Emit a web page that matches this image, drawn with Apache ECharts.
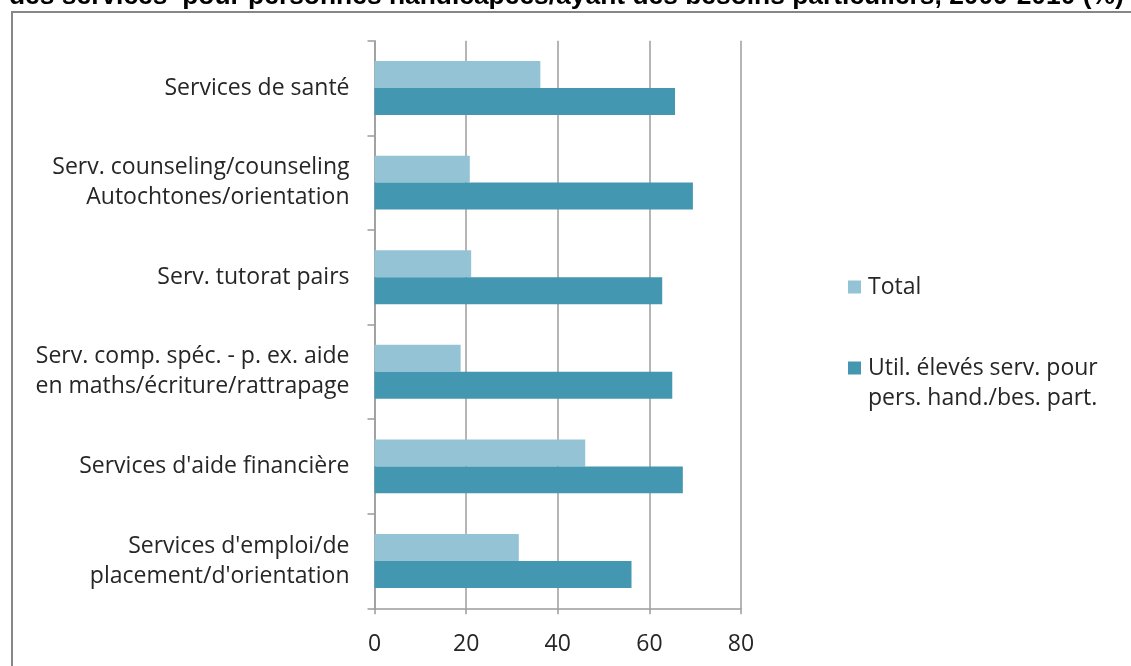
<!DOCTYPE html>
<html>
<head>
<meta charset="utf-8">
<script src="https://cdn.jsdelivr.net/npm/echarts@6/dist/echarts.min.js"></script>
<style>
  html, body { margin: 0; padding: 0; background: #ffffff; }
  #chart { width: 1131px; height: 666px; }
</style>
</head>
<body>
<div id="chart"></div>
<script>
// Service categories, top to bottom
const categories = [
  'Services de santé',
  'Serv. counseling/counseling\nAutochtones/orientation',
  'Serv. tutorat pairs',
  'Serv. comp. spéc. - p. ex. aide\nen maths/écriture/rattrapage',
  "Services d'aide financière",
  "Services d'emploi/de\nplacement/d'orientation"
];

// Series names as shown in the legend
const seriesNames = [
  'Total',
  'Util. élevés serv. pour\npers. hand./bes. part.'
];

// Share of students using each service (%)
const totalValues = [36.2, 20.8, 21.1, 18.8, 46.0, 31.5];
const specialNeedsValues = [65.6, 69.5, 62.8, 65.0, 67.3, 56.1];

// Value axis range and step
const axisMin = 0;
const axisMax = 80;
const axisStep = 20;

const titleText = 'des services  pour personnes handicapées/ayant des besoins particuliers, 2009-2010 (%)';

const FONT = '"Open Sans", "Noto Sans", sans-serif';
const TEXT_COLOR = '#262626';
const LINE_COLOR = '#9c9c9c';
const LIGHT = '#93c3d4';
const DARK = '#4397b0';

const legendText = { fontFamily: FONT, fontSize: 23, color: TEXT_COLOR, lineHeight: 30, padding: [0, 0, 0, 2] };

const chart = echarts.init(document.getElementById('chart'), null, { renderer: 'canvas' });

chart.setOption({
  backgroundColor: '#ffffff',
  animation: false,
  textStyle: { fontFamily: FONT },
  graphic: [
    {
      type: 'rect',
      silent: true,
      shape: { x: 12, y: 12, width: 1200, height: 700 },
      style: { fill: 'none', stroke: '#878787', lineWidth: 2 }
    },
    {
      type: 'text',
      silent: true,
      x: 9,
      y: 10,
      style: {
        text: titleText,
        font: 'bold 26.4px "Liberation Sans", Arial, sans-serif',
        fill: '#000000',
        verticalAlign: 'bottom'
      }
    }
  ],
  legend: [
    {
      data: [seriesNames[0]],
      orient: 'vertical',
      left: 848,
      top: 272,
      padding: 0,
      icon: 'rect',
      itemWidth: 13,
      itemHeight: 13,
      selectedMode: false,
      textStyle: legendText
    },
    {
      // leading empty line keeps the marker level with the first text line
      data: [seriesNames[1]],
      orient: 'vertical',
      left: 848,
      top: 323,
      padding: 0,
      icon: 'rect',
      itemWidth: 13,
      itemHeight: 13,
      selectedMode: false,
      formatter: name => ' \n' + name,
      textStyle: legendText
    }
  ],
  grid: {
    left: 374.5,
    right: 390,
    top: 40.7,
    bottom: 57.7,
    containLabel: false
  },
  xAxis: {
    type: 'value',
    min: axisMin,
    max: axisMax,
    interval: axisStep,
    axisLine: { show: true, lineStyle: { color: LINE_COLOR, width: 1.5 } },
    axisTick: { show: true, length: 6, lineStyle: { color: LINE_COLOR, width: 1.5 } },
    axisLabel: { fontFamily: FONT, fontSize: 23, color: TEXT_COLOR, margin: 25 },
    splitLine: { show: true, lineStyle: { color: LINE_COLOR, width: 1.5 } }
  },
  yAxis: {
    type: 'category',
    data: categories,
    inverse: true,
    axisLine: { show: true, lineStyle: { color: LINE_COLOR, width: 1.5 } },
    axisTick: { show: true, length: 7, lineStyle: { color: LINE_COLOR, width: 1.5 } },
    axisLabel: { fontFamily: FONT, fontSize: 23, color: TEXT_COLOR, margin: 25, lineHeight: 30, align: 'right' },
    splitLine: { show: false }
  },
  series: [
    {
      name: seriesNames[0],
      type: 'bar',
      data: totalValues,
      barGap: '0%',
      barCategoryGap: '43%',
      itemStyle: { color: LIGHT },
      emphasis: { disabled: true }
    },
    {
      name: seriesNames[1],
      type: 'bar',
      data: specialNeedsValues,
      barGap: '0%',
      barCategoryGap: '43%',
      itemStyle: { color: DARK },
      emphasis: { disabled: true }
    }
  ]
});
</script>
</body>
</html>
